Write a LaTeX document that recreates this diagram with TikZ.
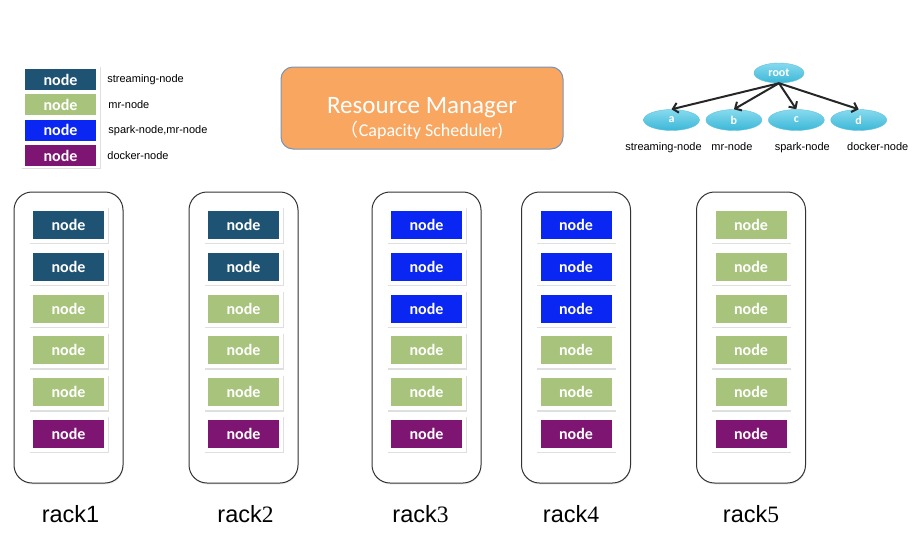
\documentclass[tikz,border=0pt]{standalone}
\usepackage{fontspec}
\setmainfont{Carlito}
\newfontfamily\arialfont{Liberation Sans}
\newfontfamily\seriffont{Liberation Serif}
\newfontfamily\cjkfont{Noto Sans CJK SC}
\usetikzlibrary{shapes.geometric, arrows.meta, positioning, shadows}

\definecolor{streamcol}{HTML}{1F5373}
\definecolor{mrcol}{HTML}{A8C47C}
\definecolor{sparkcol}{HTML}{0A26F2}
\definecolor{dockercol}{HTML}{7F1573}
\definecolor{rmorange}{HTML}{F9A661}
\definecolor{rmborder}{HTML}{7A93B3}
\definecolor{leaftop}{HTML}{86DAEE}
\definecolor{leafbottom}{HTML}{3CB7D7}
\definecolor{leafborder}{HTML}{62C3DD}

\begin{document}
\begin{tikzpicture}[
            x=1pt, y=-1pt,
            node distance=5.5pt,
            % --- styles ---
            rack/.style={rectangle, draw=black!80, line width=1pt, rounded corners=18pt, fill=white,
                         minimum width=109pt, minimum height=291pt,
                         drop shadow={opacity=0.15, shadow xshift=0.5pt, shadow yshift=-1.5pt}},
            nodebox/.style={rectangle, fill=white, minimum width=79pt, minimum height=36pt, inner sep=0pt,
                            text=white, font=\bfseries\fontsize{16}{16}\selectfont,
                            drop shadow={opacity=0.25, shadow xshift=0.8pt, shadow yshift=-1.2pt},
                            path picture={\fill[#1] ([xshift=4pt,yshift=4pt]path picture bounding box.south west)
                                          rectangle ([xshift=-4pt,yshift=-4pt]path picture bounding box.north east);}},
            legendbox/.style={rectangle, fill=#1, minimum width=71pt, minimum height=21pt, inner sep=0pt,
                              text=white, font=\bfseries\fontsize{16}{16}\selectfont},
            legendtext/.style={inner sep=0pt, font=\arialfont\fontsize{11}{11}\selectfont},
            racklabel/.style={inner sep=0pt, font=\arialfont\fontsize{23.5}{23.5}\selectfont},
            manager/.style={rectangle, rounded corners=12pt, draw=rmborder, line width=1pt, fill=rmorange,
                            text=white, minimum width=282pt, minimum height=82pt, align=center},
            leaf/.style={ellipse, draw=leafborder, top color=leaftop, bottom color=leafbottom, inner sep=0pt,
                         minimum width=56pt, minimum height=21pt, text=white, font=\bfseries\fontsize{12}{12}\selectfont},
            treelabel/.style={inner sep=0pt, font=\arialfont\fontsize{11}{11}\selectfont},
            treeedge/.style={draw, black!85, line width=2pt, -{Straight Barb[length=5pt,width=10pt]}}
        ]
    \useasboundingbox (0,0) rectangle (915,541);

        % --- legend ---
        \node[rectangle, fill=white, minimum width=79pt, minimum height=102pt,
              drop shadow={opacity=0.25, shadow xshift=0.8pt, shadow yshift=-1.2pt}] (legend) at (60.5,117) {};
        \node[legendbox=streamcol, below=3pt of legend.north] (lg1) {node};
        \node[legendbox=mrcol, below=4pt of lg1] (lg2) {node};
        \node[legendbox=sparkcol, below=4pt of lg2] (lg3) {node};
        \node[legendbox=dockercol, below=4pt of lg3] (lg4) {node};
        \node[legendtext, right=11pt of lg1] {streaming-node};
        \node[legendtext, right=12pt of lg2] {mr-node};
        \node[legendtext, right=12pt of lg3] {spark-node,mr-node};
        \node[legendtext, right=11pt of lg4] {docker-node};

        % --- resource manager ---
        \node[manager] (rm) at (422,108) {
            {\fontsize{25}{25}\selectfont\rule{0pt}{37pt}Resource Manager} \\[2pt]
            {\fontsize{18}{18}\selectfont{\cjkfont （}Capacity Scheduler)}
        };

        % --- label tree ---
        \node[leaf, minimum width=50pt, minimum height=20pt] (root) at (779,73) {root};
        \node[leaf] (a) at (671.5,120) {a};
        \node[leaf, right=6pt of a] (b) {b};
        \node[leaf, right=6pt of b] (c) {c};
        \node[leaf, right=6pt of c] (d) {d};
        \node[treelabel, below=12pt of a, xshift=-8pt] {streaming-node};
        \node[treelabel, below=12pt of b, xshift=-2pt] {mr-node};
        \node[treelabel, below=12pt of c, xshift=6pt] {spark-node};
        \node[treelabel, below=12pt of d, xshift=19pt] {docker-node};
        \path[treeedge] (root.south) -- (a.north);
        \path[treeedge] (root.south) -- (b.north);
        \path[treeedge] (root.south) -- (c.north);
        \path[treeedge] (root.south) -- (d.north);

        % --- rack 1 ---
        \node[rack] (rack1) at (68.5,337.5) {};
        \node[nodebox=streamcol, below=15pt of rack1.north] (r1n1) {node};
        \node[nodebox=streamcol, below=of r1n1] (r1n2) {node};
        \node[nodebox=mrcol, below=of r1n2] (r1n3) {node};
        \node[nodebox=mrcol, below=of r1n3] (r1n4) {node};
        \node[nodebox=mrcol, below=of r1n4] (r1n5) {node};
        \node[nodebox=dockercol, below=of r1n5] (r1n6) {node};
        \node[racklabel, below=22pt of rack1, xshift=2pt] {rack1};

        % --- rack 2 ---
        \node[rack] (rack2) at (243.5,337.5) {};
        \node[nodebox=streamcol, below=15pt of rack2.north] (r2n1) {node};
        \node[nodebox=streamcol, below=of r2n1] (r2n2) {node};
        \node[nodebox=mrcol, below=of r2n2] (r2n3) {node};
        \node[nodebox=mrcol, below=of r2n3] (r2n4) {node};
        \node[nodebox=mrcol, below=of r2n4] (r2n5) {node};
        \node[nodebox=dockercol, below=of r2n5] (r2n6) {node};
        \node[racklabel, below=22pt of rack2, xshift=2pt] {rack{\seriffont 2}};

        % --- rack 3 ---
        \node[rack] (rack3) at (426.5,337.5) {};
        \node[nodebox=sparkcol, below=15pt of rack3.north] (r3n1) {node};
        \node[nodebox=sparkcol, below=of r3n1] (r3n2) {node};
        \node[nodebox=sparkcol, below=of r3n2] (r3n3) {node};
        \node[nodebox=mrcol, below=of r3n3] (r3n4) {node};
        \node[nodebox=mrcol, below=of r3n4] (r3n5) {node};
        \node[nodebox=dockercol, below=of r3n5] (r3n6) {node};
        \node[racklabel, below=22pt of rack3, xshift=-6pt] {rack{\seriffont 3}};

        % --- rack 4 ---
        \node[rack] (rack4) at (576,337.5) {};
        \node[nodebox=sparkcol, below=15pt of rack4.north] (r4n1) {node};
        \node[nodebox=sparkcol, below=of r4n1] (r4n2) {node};
        \node[nodebox=sparkcol, below=of r4n2] (r4n3) {node};
        \node[nodebox=mrcol, below=of r4n3] (r4n4) {node};
        \node[nodebox=mrcol, below=of r4n4] (r4n5) {node};
        \node[nodebox=dockercol, below=of r4n5] (r4n6) {node};
        \node[racklabel, below=22pt of rack4, xshift=-5pt] {rack{\seriffont 4}};

        % --- rack 5 ---
        \node[rack] (rack5) at (751,337.5) {};
        \node[nodebox=mrcol, below=15pt of rack5.north] (r5n1) {node};
        \node[nodebox=mrcol, below=of r5n1] (r5n2) {node};
        \node[nodebox=mrcol, below=of r5n2] (r5n3) {node};
        \node[nodebox=mrcol, below=of r5n3] (r5n4) {node};
        \node[nodebox=mrcol, below=of r5n4] (r5n5) {node};
        \node[nodebox=dockercol, below=of r5n5] (r5n6) {node};
        \node[racklabel, below=22pt of rack5] {rack{\seriffont 5}};

        \end{tikzpicture}
\end{document}
